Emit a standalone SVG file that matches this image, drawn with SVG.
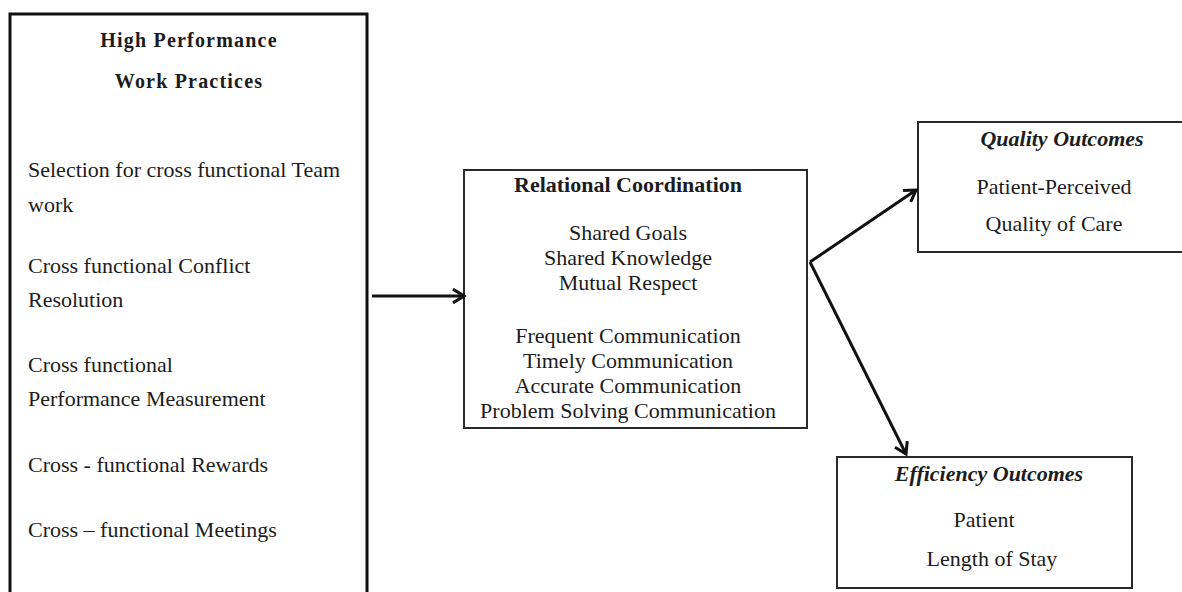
<svg xmlns="http://www.w3.org/2000/svg" width="1182" height="592" viewBox="0 0 1182 592">
  <style>
    .t { font-family: "Liberation Serif", "Times New Roman", serif; fill: #1c1c1c; }
    .lt { font-size: 22px; }
    .ct { font-size: 22px; text-anchor: middle; }
    .ot { font-size: 22px; text-anchor: middle; }
    .hb { font-weight: bold; }
    .hi { font-weight: bold; font-style: italic; }
    .box { fill: #ffffff; stroke: #2a2a2a; stroke-width: 2; }
    .conn { fill: none; stroke: #111111; stroke-width: 3; marker-end: url(#arrow); }
  </style>
  <defs>
    <marker id="arrow" viewBox="0 0 12 12" refX="10" refY="6" markerWidth="5.5" markerHeight="5.5" orient="auto" markerUnits="strokeWidth">
      <path d="M2,1 L10,6 L2,11" fill="none" stroke="#111111" stroke-width="2.2" stroke-linejoin="miter"/>
    </marker>
  </defs>
  <rect width="1182" height="592" fill="#ffffff"/>

  <g id="hpwp">
    <rect x="10" y="14" width="357" height="600" fill="#ffffff" stroke="#111111" stroke-width="3"/>
    <text class="t hb" x="189" y="47" font-size="20" text-anchor="middle" letter-spacing="1.2">High Performance</text>
    <text class="t hb" x="189" y="88" font-size="20" text-anchor="middle" letter-spacing="1.2">Work Practices</text>
    <text class="t lt" x="28" y="177">Selection for cross functional Team</text>
    <text class="t lt" x="28" y="212">work</text>
    <text class="t lt" x="28" y="273">Cross functional Conflict</text>
    <text class="t lt" x="28" y="307">Resolution</text>
    <text class="t lt" x="28" y="372">Cross functional</text>
    <text class="t lt" x="28" y="406">Performance Measurement</text>
    <text class="t lt" x="28" y="472">Cross - functional Rewards</text>
    <text class="t lt" x="28" y="537">Cross – functional Meetings</text>
  </g>

  <g id="relational-coordination">
    <rect class="box" x="464" y="170" width="343" height="258"/>
    <text class="t ct hb" x="628" y="192">Relational Coordination</text>
    <text class="t ct" x="628" y="240">Shared Goals</text>
    <text class="t ct" x="628" y="265">Shared Knowledge</text>
    <text class="t ct" x="628" y="290">Mutual Respect</text>
    <text class="t ct" x="628" y="343">Frequent Communication</text>
    <text class="t ct" x="628" y="368">Timely Communication</text>
    <text class="t ct" x="628" y="393">Accurate Communication</text>
    <text class="t ct" x="628" y="418">Problem Solving Communication</text>
  </g>

  <g id="quality-outcomes">
    <rect class="box" x="918" y="122" width="270" height="130"/>
    <text class="t ot hi" x="1062" y="146">Quality Outcomes</text>
    <text class="t ot" x="1054" y="194">Patient-Perceived</text>
    <text class="t ot" x="1054" y="231">Quality of Care</text>
  </g>

  <g id="efficiency-outcomes">
    <rect class="box" x="837" y="457" width="295" height="131"/>
    <text class="t ot hi" x="989" y="481">Efficiency Outcomes</text>
    <text class="t ot" x="984" y="527">Patient</text>
    <text class="t ot" x="992" y="566">Length of Stay</text>
  </g>

  <g id="connectors">
    <line class="conn" x1="372" y1="296" x2="464" y2="296"/>
    <line class="conn" x1="810" y1="262" x2="916" y2="190"/>
    <line class="conn" x1="810" y1="262" x2="906" y2="454"/>
  </g>
</svg>
